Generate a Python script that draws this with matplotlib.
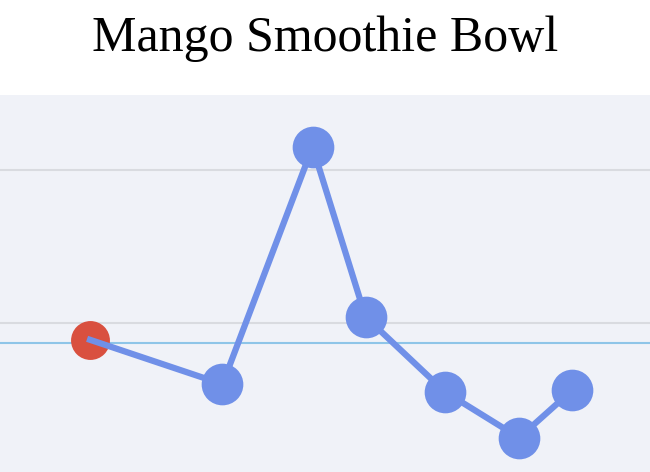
import matplotlib
matplotlib.use("Agg")
from matplotlib import pyplot as plt

# data
x_vals = [0, 2.5, 4.2, 5.2, 6.7, 8.1, 9.1]
y_vals = [0.89, 0.60, 2.15, 1.04, 0.55, 0.25, 0.56]
baseline = 0.87
grid_levels = [1.0, 2.0]
title = "Mango Smoothie Bowl"

fig = plt.figure(figsize=(6.5, 4.72), dpi=100)
ax = fig.add_axes([0, 0, 1, 377 / 472])
ax.set_facecolor("#f0f2f8")

for g in grid_levels:
    ax.axhline(g, color="#d9dbe0", lw=1.5, zorder=1)
ax.axhline(baseline, color="#8ec5e8", lw=1.5, zorder=1)

blue = "#7090e8"
ax.plot(x_vals[:1], y_vals[:1], "o", color="#d9503f", ms=28, mec="none", zorder=2)
ax.plot(x_vals, y_vals, color=blue, lw=4.5, zorder=3)
ax.plot(x_vals[1:], y_vals[1:], "o", color=blue, ms=30, mec="none", zorder=4)

ax.set_xlim(-1.7, 10.57)
ax.set_ylim(0.026, 2.49)
ax.set_xticks([])
ax.set_yticks([])
for s in ax.spines.values():
    s.set_visible(False)

fig.text(0.5, 0.918, title, ha="center", va="center",
         family="Liberation Serif", fontsize=36)

fig.savefig("out.png", dpi=100)
